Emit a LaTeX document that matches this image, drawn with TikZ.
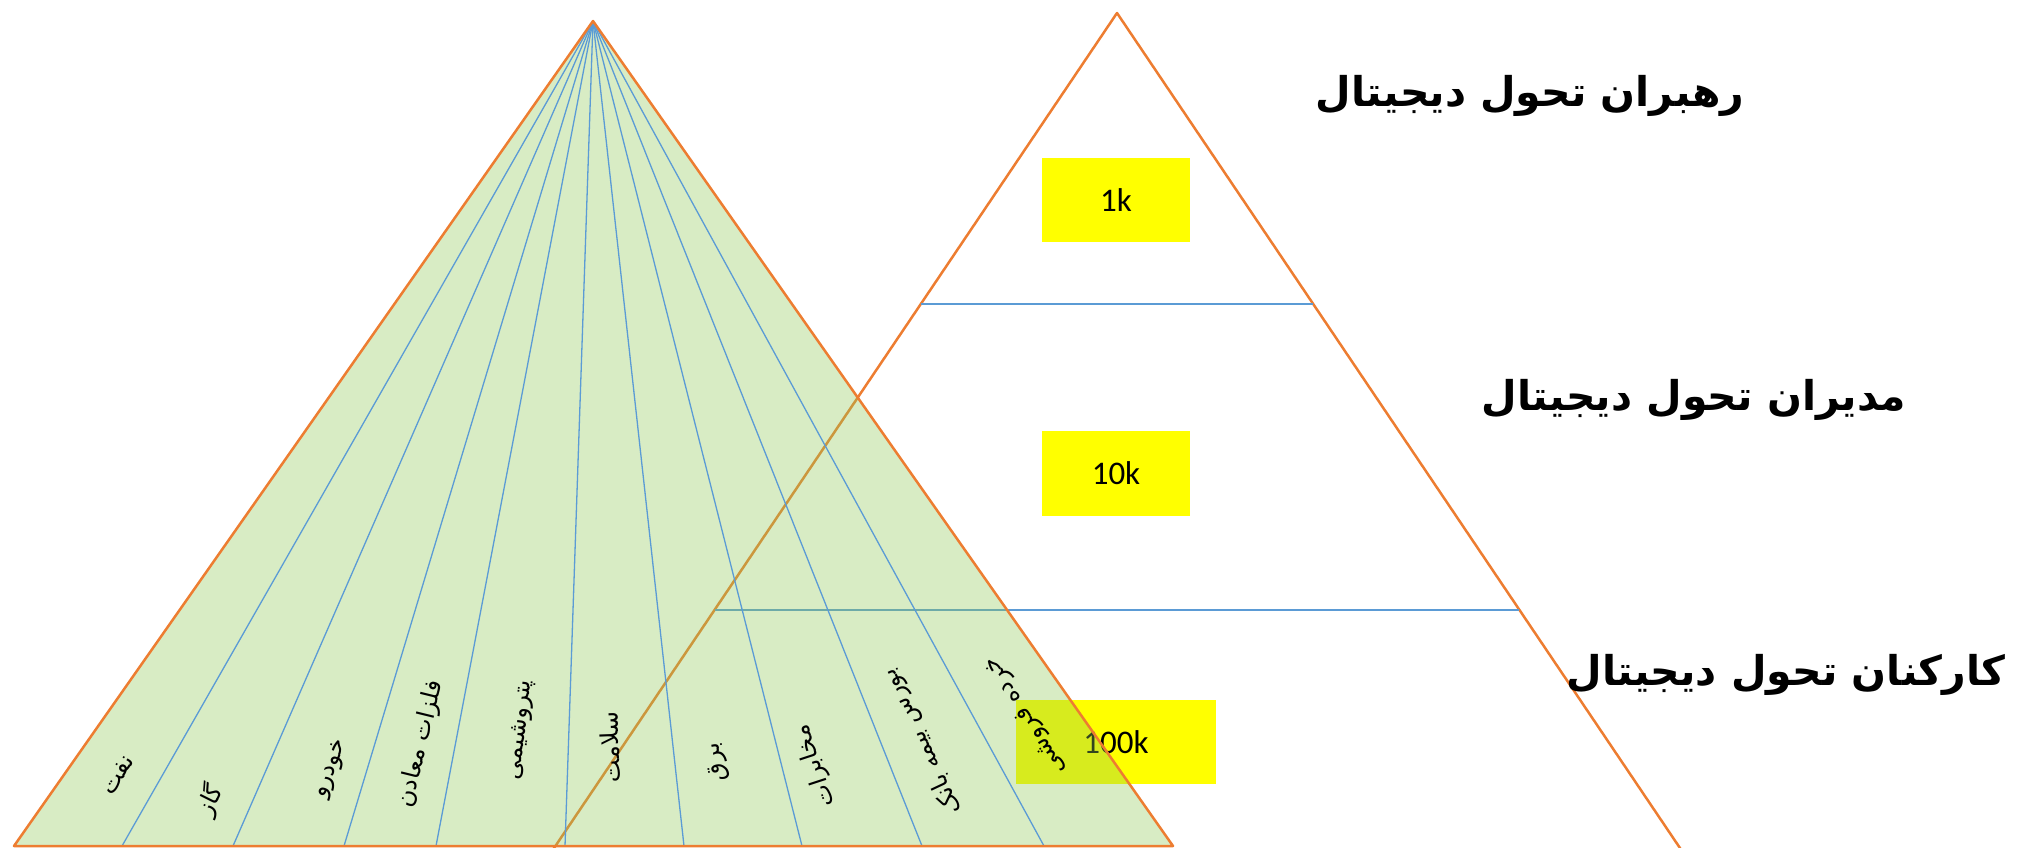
\documentclass[tikz,border=0pt]{standalone}
\usepackage{fontspec}
\setmainfont{Carlito}
\newfontfamily\arabicfont[Script=Arabic]{DejaVu Sans}
\newfontfamily\arabicbold[Script=Arabic]{DejaVu Sans Bold}
\TeXXeTstate=1
\definecolor{orng}{RGB}{237,125,49}
\definecolor{blu}{RGB}{91,155,213}
\definecolor{grn}{RGB}{143,200,86}
\definecolor{yel}{RGB}{255,255,0}
\tikzset{
  edge/.style={draw=orng, line width=2.5pt, line join=round},
  divline/.style={draw=blu, line width=1.3pt},
  ybox/.style={fill=yel, inner sep=0pt, font=\fontsize{33}{40}\selectfont},
  sector/.style={font=\arabicfont\fontsize{24}{28}\selectfont, inner sep=0pt},
  title/.style={font=\arabicbold\fontsize{41}{50}\selectfont, inner sep=0pt},
}
\begin{document}
\begin{tikzpicture}[x=1pt,y=-1pt]
\useasboundingbox (0,0) rectangle (2043,848);
% right pyramid
\begin{scope}
\clip (0,0) rectangle (2043,848);
\coordinate (RA) at (1117,13);
\coordinate (RL) at (519,900);
\coordinate (RR) at (1715,900);
\draw[edge] (RL) -- (RA) -- (RR);
\coordinate (h1l) at (921,304);
\coordinate (h1r) at (1313,304);
\coordinate (h2l) at (715,610);
\coordinate (h2r) at (1519,610);
\draw[divline] (h1l) -- (h1r);
\draw[divline] (h2l) -- (h2r);
\end{scope}
% yellow boxes
\node[ybox, minimum width=148pt, minimum height=84pt] (k1) at (1116,200) {1k};
\node[ybox, minimum width=148pt, minimum height=85pt] (k10) at (1116,473.5) {10k};
\node[ybox, minimum width=200pt, minimum height=84pt] (k100) at (1116,742) {100k};
% left pyramid
\coordinate (LA) at (593,21);
\foreach \i/\x in {0/14,1/122,2/233,3/344,4/436,5/565,6/684,7/802,8/922,9/1044,10/1173}
  \coordinate (b\i) at (\x,846);
\fill[grn, fill opacity=0.35] (LA) -- (b0) -- (b10) -- cycle;
\foreach \i in {1,...,9} \draw[divline] (LA) -- (b\i);
\draw[edge] (LA) -- (b0) -- (b10) -- cycle;
% sector labels
\node[sector, rotate=57.5] (s1) at (118,775) {\beginR نفت\endR};
\node[sector, rotate=63.3] (s2) at (210,800) {\beginR گاز\endR};
\node[sector, rotate=69.7] (s3) at (332,769) {\beginR خودرو\endR};
\node[sector, rotate=76.2] (s4) at (421,744) {\beginR فلزات معادن\endR};
\node[sector, rotate=83.6] (s5) at (521,730) {\beginR پتروشیمی\endR};
\node[sector, rotate=92.2] (s6) at (610,747) {\beginR سلامت\endR};
\node[sector, rotate=100.3] (s7) at (717,762) {\beginR برق\endR};
\node[sector, rotate=108.1] (s8) at (815,766) {\beginR مخابرات\endR};
\node[sector, rotate=115.3] (s9) at (922,742) {\beginR بورس بیمه بانک\endR};
\node[sector, rotate=122] (s10) at (1026,716) {\beginR خرده فروشی\endR};
% titles
\node[title] (t1) at (1530,96) {\beginR رهبران تحول دیجیتال\endR};
\node[title] (t2) at (1694,400) {\beginR مدیران تحول دیجیتال\endR};
\node[title] (t3) at (1786,675) {\beginR کارکنان تحول دیجیتال\endR};
\end{tikzpicture}
\end{document}
